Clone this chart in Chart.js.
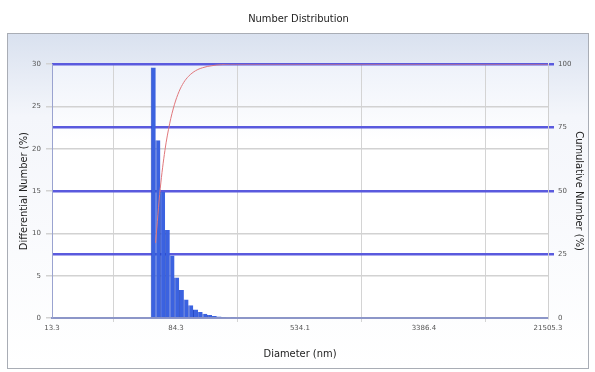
<!DOCTYPE html>
<html>
<head>
<meta charset="utf-8">
<script src="https://cdn.jsdelivr.net/npm/chart.js@4.4.1/dist/chart.umd.min.js"></script>
<style>
html,body{margin:0;padding:0;background:#fff;}
#wrap{width:595px;height:372px;}
</style>
</head>
<body>
<div id="wrap"><canvas id="c" width="595" height="372"></canvas></div>
<script>
// ---- data ----
const chartTitle = "Number Distribution";
const xTickLabels = ["13.3", "84.3", "534.1", "3386.4", "21505.3"];
const binCenters = [60.1, 64.4, 69.1, 74.1, 79.5, 85.2, 91.4, 98.0, 105.1, 112.8, 120.9, 129.7, 139.1, 149.2, 160.0, 171.6, 184.0, 197.4];
const differential = [29.6, 21.0, 14.9, 10.4, 7.4, 4.8, 3.3, 2.2, 1.5, 1.0, 0.7, 0.5, 0.35, 0.25, 0.18, 0.12, 0.08, 0.05];
const binEdges = [62.2, 66.7, 71.5, 76.7, 82.3, 88.2, 94.6, 101.5, 108.8, 116.7, 125.2, 134.2, 143.9, 154.4, 165.6, 177.6, 190.4, 204.2, 21505.3];
const cumulative = [29.6, 51.0, 66.0, 76.5, 84.0, 89.2, 92.8, 95.2, 96.8, 97.9, 98.6, 99.1, 99.4, 99.7, 99.85, 99.95, 100, 100, 100];
const leftTicks = [0, 5, 10, 15, 20, 25, 30];
const rightTicks = [0, 25, 50, 75, 100];

const xTickValues = xTickLabels.map(Number);

const framePlugin = {
  id: 'frame',
  beforeDraw(chart) {
    const ctx = chart.ctx;
    ctx.save();
    const g = ctx.createLinearGradient(0, 33, 0, 368);
    g.addColorStop(0, '#d9e1ef');
    g.addColorStop(0.25, '#f4f6fb');
    g.addColorStop(1, '#ffffff');
    ctx.fillStyle = g;
    ctx.fillRect(7.5, 33.5, 581, 335);
    ctx.strokeStyle = '#a9adb5';
    ctx.lineWidth = 1;
    ctx.strokeRect(7.5, 33.5, 581, 335);
    const a = chart.chartArea;
    const g2 = ctx.createLinearGradient(0, a.top, 0, a.bottom);
    g2.addColorStop(0, '#eef2fa');
    g2.addColorStop(0.3, '#ffffff');
    g2.addColorStop(1, '#ffffff');
    ctx.fillStyle = g2;
    ctx.fillRect(a.left, a.top, a.right - a.left, a.bottom - a.top);
    ctx.restore();
  }
};

const tickFont = { family: 'DejaVu Sans', size: 7 };

new Chart(document.getElementById('c'), {
  type: 'bar',
  data: {
    datasets: [
      {
        type: 'line',
        label: 'Cumulative',
        data: binEdges.map((x, i) => ({ x: x, y: cumulative[i] })),
        yAxisID: 'y2',
        borderColor: '#e0787c',
        borderWidth: 1,
        pointRadius: 0,
        tension: 0.4,
        cubicInterpolationMode: 'monotone',
        order: 0
      },
      {
        type: 'bar',
        label: 'Differential',
        data: binCenters.map((x, i) => ({ x: x, y: differential[i] })),
        yAxisID: 'y',
        backgroundColor: '#3b62e0',
        borderColor: '#2448c4',
        borderWidth: { left: 1, right: 0, top: 0, bottom: 0 },
        categoryPercentage: 1.0,
        barPercentage: 1.08,
        order: 1
      }
    ]
  },
  options: {
    responsive: false,
    animation: false,
    layout: { padding: { left: 10, right: 8, top: 0, bottom: 11 } },
    plugins: {
      legend: { display: false },
      tooltip: { enabled: false },
      title: {
        display: true,
        text: chartTitle,
        color: '#222',
        font: { family: 'DejaVu Sans Condensed', size: 11, weight: 'normal' },
        padding: { top: 13, bottom: 38 }
      }
    },
    scales: {
      x: {
        type: 'logarithmic',
        min: xTickValues[0],
        max: xTickValues[xTickValues.length - 1],
        afterBuildTicks(scale) {
          scale.ticks = xTickValues.map(v => ({ value: v }));
        },
        ticks: {
          autoSkip: false,
          maxRotation: 0,
          color: '#555',
          font: tickFont,
          padding: 2,
          callback: (v, i) => xTickLabels[i]
        },
        grid: { color: '#d4d4d4', lineWidth: 1, tickLength: 4, drawTicks: true },
        border: { color: '#8c96c8', width: 2 },
        title: {
          display: true,
          text: 'Diameter (nm)',
          color: '#222',
          font: { family: 'DejaVu Sans Condensed', size: 11 },
          padding: { top: 6, bottom: 0 }
        },
        afterFit(scale) { scale.height = 43; }
      },
      y: {
        position: 'left',
        min: 0,
        max: 30,
        afterBuildTicks(scale) {
          scale.ticks = leftTicks.map(v => ({ value: v }));
        },
        ticks: { color: '#555', font: tickFont, padding: 5 },
        grid: { color: '#d2d2d2', lineWidth: 1.5, tickLength: 6 },
        border: { color: '#9aa3d0', width: 1 },
        title: {
          display: true,
          text: 'Differential Number (%)',
          color: '#222',
          font: { family: 'DejaVu Sans Condensed', size: 11 },
          padding: { top: 8, bottom: 0 }
        },
        afterFit(scale) { scale.width = 42; }
      },
      y2: {
        position: 'right',
        min: 0,
        max: 100,
        afterBuildTicks(scale) {
          scale.ticks = rightTicks.map(v => ({ value: v }));
        },
        ticks: { color: '#555', font: tickFont, padding: 4 },
        grid: {
          color: ctx => (ctx.tick && ctx.tick.value === 0) ? 'rgba(0,0,0,0)' : '#5a5ade',
          lineWidth: 2.5,
          tickLength: 6
        },
        border: { color: '#d0d0d0', width: 1 },
        title: {
          display: true,
          text: 'Cumulative Number (%)',
          color: '#222',
          font: { family: 'DejaVu Sans Condensed', size: 11 },
          padding: { top: 2, bottom: 0 }
        },
        afterFit(scale) { scale.width = 39; }
      }
    }
  },
  plugins: [framePlugin]
});
</script>
</body>
</html>
